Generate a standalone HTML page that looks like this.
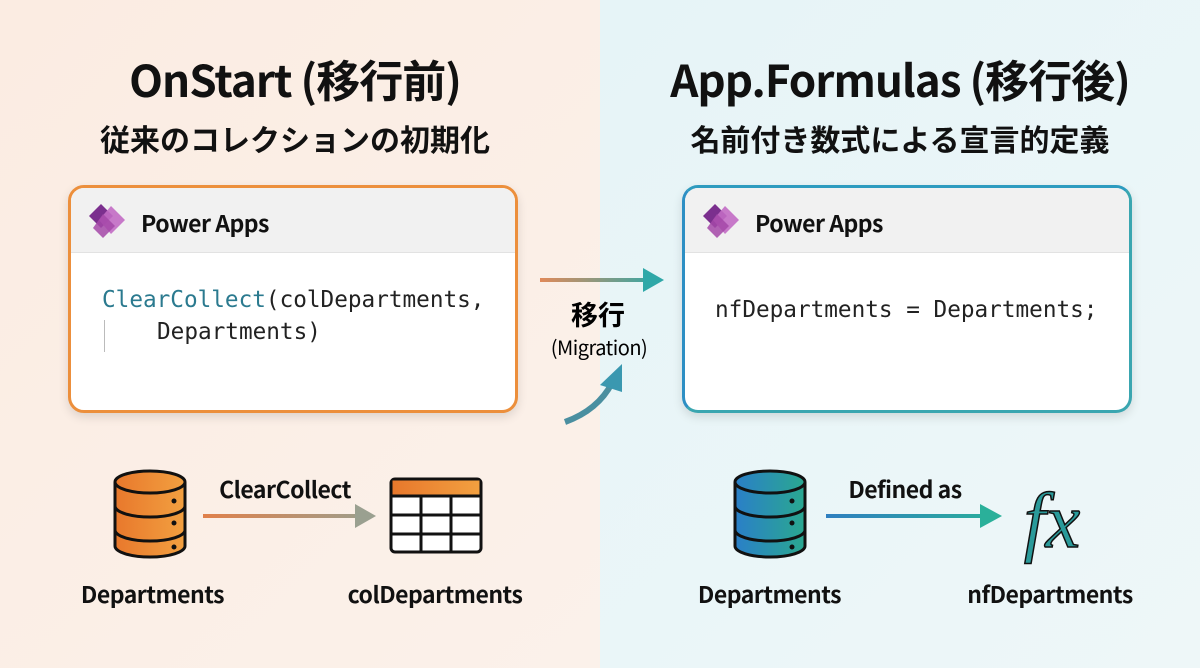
<!DOCTYPE html>
<html><head><meta charset="utf-8"><style>
body{margin:0;width:1200px;height:668px;overflow:hidden;position:relative;font-family:"Liberation Sans","Noto Sans CJK JP",sans-serif;color:#111}
.bgL{position:absolute;left:0;top:0;width:600px;height:668px;background:linear-gradient(135deg,#fbece2,#fbf1ea)}
.bgR{position:absolute;left:600px;top:0;width:600px;height:668px;background:linear-gradient(135deg,#e6f4f7,#eef7f8)}
.t{position:absolute;text-align:center;font-weight:bold;white-space:nowrap;font-family:"Noto Sans CJK JP","Liberation Sans",sans-serif}
.card{position:absolute;top:185px;width:444px;height:222px;border-radius:16px;background:#fff;overflow:hidden;box-shadow:0 4px 10px rgba(0,0,0,.12)}
.hdr{position:absolute;left:0;top:0;right:0;height:64px;background:#f1f1f1;border-bottom:1px solid #e2e2e2}
.hdr span{position:absolute;left:70px;top:17px;font-size:23px;font-weight:bold;font-family:"Noto Sans CJK JP",sans-serif;letter-spacing:-0.5px}
.code{position:absolute;font-family:"DejaVu Sans Mono","Liberation Mono",monospace;font-size:22.7px;white-space:pre;color:#222}
.lbl{position:absolute;font-size:23px;font-weight:bold;text-align:center;white-space:nowrap;font-family:"Noto Sans CJK JP",sans-serif;letter-spacing:-0.5px}
</style></head><body>
<div class="bgL"></div><div class="bgR"></div>
<div class="t" style="left:45px;width:500px;top:46px;font-size:44px;letter-spacing:-1px">OnStart (移行前)</div>
<div class="t" style="left:45px;width:500px;top:116px;font-size:30px">従来のコレクションの初期化</div>
<div class="t" style="left:650px;width:500px;top:46px;font-size:44px;letter-spacing:-1px">App.Formulas (移行後)</div>
<div class="t" style="left:650px;width:500px;top:116px;font-size:30px">名前付き数式による宣言的定義</div>

<div class="card" style="left:68px;border:3px solid #ec8f3c">
 <div class="hdr"><span>Power Apps</span></div>
 <svg style="position:absolute;left:18px;top:14px" width="40" height="38"><polygon points="12,2 24,14 12,26 0,14" fill="#7b2f8e"/><polygon points="22,4 36,18 22,32 10,18" fill="#c26bc4" opacity=".9"/><polygon points="14,12 26,24 14,36 4,26" fill="#a448a8" opacity=".85"/></svg>
 <div class="code" style="left:31px;top:99px"><span style="color:#2b7a8f">ClearCollect</span>(colDepartments,</div>
 <div class="code" style="left:86px;top:131px">Departments)</div>
 <div style="position:absolute;left:33px;top:132px;width:1px;height:32px;background:#bbb"></div>
</div>
<div class="card" style="left:682px;border:3px solid #3aa6b0;border-left-color:#2d8fc4;border-top-color:#2d9bbf">
 <div class="hdr"><span>Power Apps</span></div>
 <svg style="position:absolute;left:18px;top:14px" width="40" height="38"><polygon points="12,2 24,14 12,26 0,14" fill="#7b2f8e"/><polygon points="22,4 36,18 22,32 10,18" fill="#c26bc4" opacity=".9"/><polygon points="14,12 26,24 14,36 4,26" fill="#a448a8" opacity=".85"/></svg>
 <div class="code" style="left:30px;top:109px">nfDepartments = Departments;</div>
</div>

<svg style="position:absolute;left:0;top:0" width="1200" height="668">
<defs>
<linearGradient id="ga" gradientUnits="userSpaceOnUse" x1="540" y1="0" x2="660" y2="0"><stop offset="0" stop-color="#e08a5a"/><stop offset="1" stop-color="#2fa8a8"/></linearGradient>
<linearGradient id="gb" gradientUnits="userSpaceOnUse" x1="203" y1="0" x2="376" y2="0"><stop offset="0" stop-color="#e0804a"/><stop offset="1" stop-color="#9aa090"/></linearGradient>
<linearGradient id="gc" gradientUnits="userSpaceOnUse" x1="826" y1="0" x2="1002" y2="0"><stop offset="0" stop-color="#2f7fc0"/><stop offset="1" stop-color="#2ab09a"/></linearGradient>
<linearGradient id="go" x1="0" x2="1"><stop offset="0" stop-color="#e8782c"/><stop offset="1" stop-color="#f2a040"/></linearGradient>
<linearGradient id="gt" x1="0" x2="1"><stop offset="0" stop-color="#2a7fc8"/><stop offset="1" stop-color="#2aa890"/></linearGradient>
</defs>
<line x1="540" y1="280" x2="645" y2="280" stroke="url(#ga)" stroke-width="4"/>
<polygon points="643,268 664,280 643,292" fill="#2fa8a8"/>
<path d="M565,422 Q598,410 612,383" stroke="#4a8fa0" stroke-width="6" fill="none"/>
<polygon points="600,385 622,364 622,392" fill="#3a98b0"/>
<text x="598" y="325" font-size="27" font-weight="bold" text-anchor="middle" font-family="Noto Sans CJK JP,sans-serif">移行</text>
<text x="599" y="355" font-size="20" text-anchor="middle" font-family="Noto Sans CJK JP,sans-serif" letter-spacing="-0.5">(Migration)</text>

<g stroke="#111" stroke-width="3">
<path d="M115,482 v64 a35,11 0 0 0 70,0 v-64" fill="url(#go)"/>
<ellipse cx="150" cy="482" rx="35" ry="11" fill="url(#go)"/>
<path d="M115,506 a35,11 0 0 0 70,0 M115,530 a35,11 0 0 0 70,0" fill="none"/>
<path d="M735,482 v64 a35,11 0 0 0 70,0 v-64" fill="url(#gt)"/>
<ellipse cx="770" cy="482" rx="35" ry="11" fill="url(#gt)"/>
<path d="M735,506 a35,11 0 0 0 70,0 M735,530 a35,11 0 0 0 70,0" fill="none"/>
</g>
<g fill="#111"><circle cx="174" cy="501" r="2.5"/><circle cx="174" cy="523" r="2.5"/><circle cx="174" cy="547" r="2.5"/>
<circle cx="792" cy="501" r="2.5"/><circle cx="792" cy="523" r="2.5"/><circle cx="792" cy="547" r="2.5"/></g>
<line x1="203" y1="516" x2="360" y2="516" stroke="url(#gb)" stroke-width="4"/>
<polygon points="355,504 376,516 355,528" fill="#9aa090"/>
<line x1="826" y1="516" x2="985" y2="516" stroke="url(#gc)" stroke-width="4"/>
<polygon points="980,504 1002,516 980,528" fill="#2ab09a"/>
<rect x="391" y="479" width="90" height="73" rx="4" fill="#fff" stroke="#111" stroke-width="3"/>
<rect x="392.5" y="480.5" width="87" height="16" fill="url(#go)"/>
<g stroke="#111" stroke-width="3"><line x1="391" y1="496" x2="481" y2="496"/><line x1="391" y1="515" x2="481" y2="515"/><line x1="391" y1="534" x2="481" y2="534"/><line x1="421" y1="496" x2="421" y2="552"/><line x1="451" y1="496" x2="451" y2="552"/></g>
<text x="1052" y="547" font-size="78" font-style="italic" text-anchor="middle" font-family="Liberation Serif,serif" fill="#2a9a9a" stroke="#111" stroke-width="1.5">fx</text>
</svg>
<div class="lbl" style="left:200px;width:170px;top:471px">ClearCollect</div>
<div class="lbl" style="left:60px;width:185px;top:576px">Departments</div>
<div class="lbl" style="left:335px;width:200px;top:576px">colDepartments</div>
<div class="lbl" style="left:820px;width:170px;top:471px">Defined as</div>
<div class="lbl" style="left:677px;width:185px;top:576px">Departments</div>
<div class="lbl" style="left:950px;width:200px;top:576px">nfDepartments</div>
</body></html>
